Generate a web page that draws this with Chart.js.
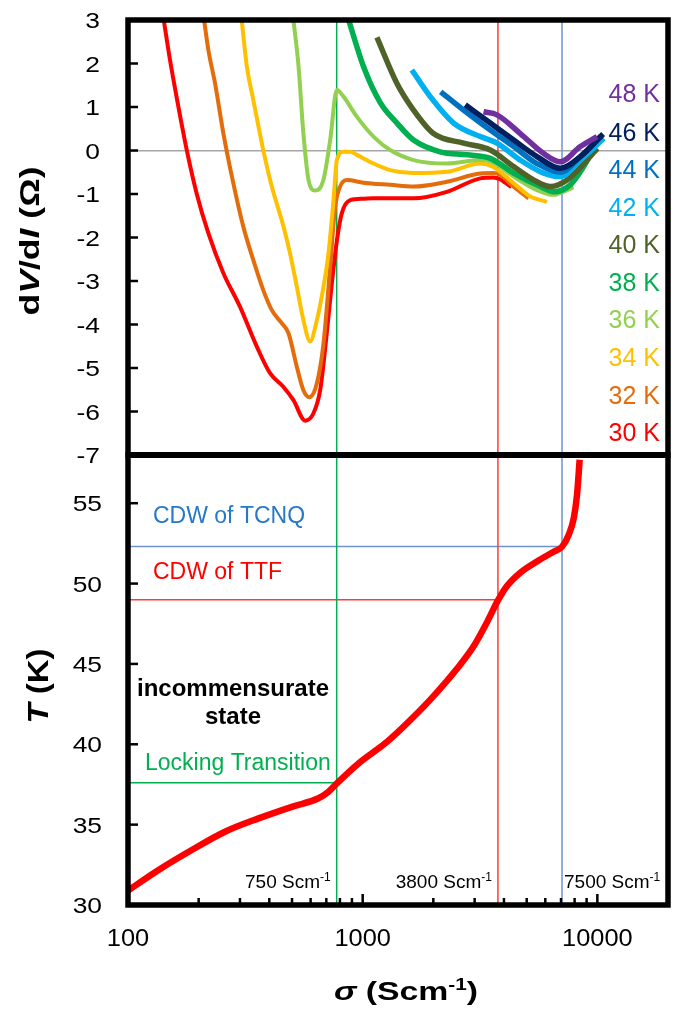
<!DOCTYPE html>
<html>
<head>
<meta charset="utf-8">
<script src="https://cdn.jsdelivr.net/npm/chart.js@4.4.1/dist/chart.umd.min.js"></script>
<style>
  html, body { margin: 0; padding: 0; background: #fff; }
  canvas { display: block; }
</style>
</head>
<body>
<canvas id="chart" width="677" height="1010"></canvas>
<script>
// top panel: dV/dI curves, one per temperature
const temps = [30, 32, 34, 36, 38, 40, 42, 44, 46, 48];
const tempColors = ["#ff0000", "#e46c0a", "#ffc000", "#92d050", "#00b050",
                    "#4f6228", "#00b0f0", "#0070c0", "#002060", "#7030a0"];

const sigma30 = [142, 151, 162, 178, 196, 220, 255, 300, 354, 403, 459, 507, 569, 617, 659, 703, 739, 777, 815, 885, 1000, 1112, 1310, 1647, 2285, 3170, 3600, 3850, 4050, 4300];
const dvdi30  = [3.0, 2.08, 1.16, 0.01, -0.98, -1.90, -2.82, -3.59, -4.51, -5.12, -5.43, -5.74, -6.21, -6.04, -5.51, -4.20, -3.05, -2.06, -1.44, -1.14, -1.11, -1.10, -1.10, -1.10, -0.95, -0.64, -0.62, -0.66, -0.74, -0.84];

const sigma32 = [211, 220, 235, 255, 281, 310, 342, 377, 410, 452, 483, 524, 559, 593, 638, 681, 727, 764, 801, 856, 1008, 1310, 1647, 2285, 3170, 3600, 3850, 4397, 5090];
const dvdi32  = [3.0, 2.31, 1.54, 0.39, -0.75, -1.75, -2.52, -3.21, -3.67, -3.97, -4.20, -4.97, -5.51, -5.67, -5.35, -4.43, -2.67, -1.29, -0.83, -0.68, -0.74, -0.79, -0.83, -0.72, -0.53, -0.52, -0.56, -0.83, -1.10];

const sigma34 = [305, 321, 342, 377, 410, 460, 490, 524, 559, 597, 638, 681, 715, 751, 776, 828, 885, 944, 1112, 1310, 1647, 2285, 3170, 3600, 4397, 5180, 6100];
const dvdi34  = [3.0, 1.93, 1.16, 0.01, -0.83, -1.75, -2.36, -3.13, -3.90, -4.39, -3.90, -3.13, -2.36, -1.14, -0.22, -0.03, -0.03, -0.10, -0.30, -0.45, -0.52, -0.49, -0.30, -0.38, -0.75, -1.06, -1.18];

const sigma36 = [507, 533, 559, 588, 627, 680, 727, 776, 828, 944, 1112, 1310, 1647, 2285, 3170, 3600, 4397, 5529, 6515, 7430, 7920];
const dvdi36  = [3.0, 1.93, 0.39, -0.68, -0.92, -0.68, 0.24, 1.39, 1.24, 0.78, 0.32, 0.01, -0.22, -0.30, -0.22, -0.28, -0.60, -0.91, -1.02, -0.91, -0.85];

const sigma38 = [871, 1008, 1188, 1400, 1647, 2138, 2780, 3498, 4397, 5710, 6515, 7670, 8750, 9650];
const dvdi38  = [3.0, 1.93, 1.10, 0.63, 0.24, -0.03, -0.10, -0.18, -0.52, -0.83, -0.95, -0.79, -0.37, 0.05];

const sigma40 = [1150, 1400, 1647, 2004, 2692, 3498, 4397, 5529, 6305, 7430, 9040, 10000];
const dvdi40  = [2.6, 1.54, 0.93, 0.39, 0.17, 0.01, -0.37, -0.72, -0.83, -0.68, -0.22, 0.05];

const sigma42 = [1620, 1940, 2440, 3170, 3735, 4694, 5906, 6952, 8465, 10650];
const dvdi42  = [1.85, 1.24, 0.63, 0.32, 0.17, -0.22, -0.52, -0.60, -0.22, 0.28];

const sigma44 = [2150, 2690, 3498, 4397, 5529, 6952, 8465, 10400];
const dvdi44  = [1.35, 0.93, 0.47, 0.09, -0.30, -0.50, -0.14, 0.34];

const sigma46 = [2737, 3498, 4397, 5529, 6952, 8465, 10580];
const dvdi46  = [1.05, 0.63, 0.24, -0.14, -0.41, -0.14, 0.38];

const sigma48 = [3273, 3735, 4694, 5906, 6952, 8465, 9970];
const dvdi48  = [0.89, 0.82, 0.39, -0.07, -0.26, 0.09, 0.32];

const sigmaCurves = [sigma30, sigma32, sigma34, sigma36, sigma38, sigma40, sigma42, sigma44, sigma46, sigma48];
const dvdiCurves = [dvdi30, dvdi32, dvdi34, dvdi36, dvdi38, dvdi40, dvdi42, dvdi44, dvdi46, dvdi48];

// bottom panel: T vs sigma
const sigmaT = [100, 135, 187, 259, 360, 499, 648, 715, 776, 960, 1247, 1445, 1621, 2004, 2522, 2970, 3388, 3770, 4120, 4694, 5530, 6515, 7070, 7545, 7930, 8190, 8405];
const tempT  = [30.9, 32.18, 33.42, 34.56, 35.39, 36.11, 36.64, 37.05, 37.57, 38.81, 40.06, 40.9, 41.6, 43.0, 44.7, 46.1, 47.6, 48.95, 49.85, 50.68, 51.38, 51.98, 52.29, 53.02, 54.06, 55.51, 57.7];

// transitions: locking, CDW of TTF, CDW of TCNQ
const refSigma = [775, 3770, 7070];
const refTemp = [37.6, 49.0, 52.3];
const refLabels = ["750", "3800", "7500"];
const refColors = ["#00b050", "#ff3b3b", "#6f94cd"];

// axes
const dvdiTicks = [3, 2, 1, 0, -1, -2, -3, -4, -5, -6, -7];
const tempTicks = [30, 35, 40, 45, 50, 55];
const sigmaTicks = [100, 1000, 10000];
const sigmaMinor = [200, 300, 400, 500, 600, 700, 800, 900, 2000, 3000, 4000, 5000, 6000, 7000, 8000, 9000];

const FONT = '"Liberation Sans", Arial, sans-serif';

const datasets = [];

temps.forEach((t, i) => {
  datasets.push({
    label: t + " K",
    data: sigmaCurves[i].map((s, j) => ({ x: s, y: dvdiCurves[i][j] })),
    yAxisID: "yT",
    borderColor: tempColors[i],
    borderWidth: i < 4 ? 4 : 5.5,
    pointRadius: 0,
    showLine: true,
    cubicInterpolationMode: "monotone",
    order: 20 - i
  });
});

datasets.push({
  label: "T",
  data: sigmaT.map((s, j) => ({ x: s, y: tempT[j] })),
  yAxisID: "yB",
  borderColor: "#ff0000",
  borderWidth: 6.5,
  pointRadius: 0,
  showLine: true,
  cubicInterpolationMode: "monotone",
  order: 1
});

refSigma.forEach((s, i) => {
  const common = { borderColor: refColors[i], borderWidth: 1.5, pointRadius: 0, showLine: true, order: 40 };
  datasets.push(Object.assign({ data: [{ x: s, y: 3 }, { x: s, y: -7 }], yAxisID: "yT" }, common));
  datasets.push(Object.assign({ data: [{ x: s, y: 30 }, { x: s, y: 58 }], yAxisID: "yB" }, common));
  datasets.push(Object.assign({ data: [{ x: 100, y: refTemp[i] }, { x: s, y: refTemp[i] }], yAxisID: "yB" }, common));
});

// text with optional horizontal stretch and rotation
function drawRich(ctx, parts, x, y, align, sx, rot) {
  ctx.save();
  ctx.translate(x, y);
  if (rot) ctx.rotate(rot);
  ctx.scale(sx, 1);
  let w = 0;
  parts.forEach(p => { ctx.font = p.font; w += ctx.measureText(p.t).width; });
  let cx = align === "center" ? -w / 2 : align === "right" ? -w : 0;
  ctx.textAlign = "left";
  ctx.textBaseline = "alphabetic";
  parts.forEach(p => {
    ctx.font = p.font;
    ctx.fillStyle = p.color || "#000";
    ctx.fillText(p.t, cx, p.dy || 0);
    cx += ctx.measureText(p.t).width;
  });
  ctx.restore();
}

function seg(ctx, x1, y1, x2, y2) {
  ctx.beginPath();
  ctx.moveTo(x1, y1);
  ctx.lineTo(x2, y2);
  ctx.stroke();
}

const decorations = {
  id: "decorations",
  afterDatasetsDraw(chart) {
    const ctx = chart.ctx;
    const a = chart.chartArea;
    const xs = chart.scales.x, yT = chart.scales.yT, yB = chart.scales.yB;
    ctx.save();
    ctx.strokeStyle = "#000";
    ctx.lineWidth = 2.5;
    dvdiTicks.forEach(v => { const p = yT.getPixelForValue(v); seg(ctx, a.left, p, a.left + 10, p); });
    tempTicks.forEach(v => { const p = yB.getPixelForValue(v); seg(ctx, a.left, p, a.left + 10, p); });
    sigmaMinor.forEach(v => { const p = xs.getPixelForValue(v); seg(ctx, p, a.bottom, p, a.bottom - 7); });
    sigmaTicks.forEach(v => { const p = xs.getPixelForValue(v); seg(ctx, p, a.bottom, p, a.bottom - 11); });
    ctx.lineWidth = 5.5;
    ctx.strokeRect(a.left, a.top, a.right - a.left, a.bottom - a.top);
    ctx.lineWidth = 6;
    seg(ctx, a.left - 2.5, yT.bottom, a.right + 2.5, yT.bottom);
    ctx.restore();

    const tick = "22px " + FONT;
    dvdiTicks.forEach(v => drawRich(ctx, [{ t: String(v), font: tick }], 100, yT.getPixelForValue(v) + 8, "right", 1.2));
    tempTicks.forEach(v => drawRich(ctx, [{ t: String(v), font: tick }], 102, yB.getPixelForValue(v) + 8, "right", 1.2));
    sigmaTicks.forEach(v => drawRich(ctx, [{ t: String(v), font: "23.5px " + FONT }], xs.getPixelForValue(v), 946, "center", 1.08));

    // axis titles
    const bold = "bold 28px " + FONT, boldIt = "italic bold 28px " + FONT;
    drawRich(ctx, [
      { t: "d", font: bold }, { t: "V", font: boldIt }, { t: "/d", font: bold },
      { t: "I", font: boldIt }, { t: " (Ω)", font: bold }
    ], 39, 241, "center", 1.27, -Math.PI / 2);
    drawRich(ctx, [
      { t: "T", font: "italic bold 30px " + FONT }, { t: " (K)", font: "bold 30px " + FONT }
    ], 48, 686, "center", 1.1, -Math.PI / 2);
    drawRich(ctx, [
      { t: "σ", font: "italic bold 26px " + FONT }, { t: " (Scm", font: "bold 26px " + FONT },
      { t: "-1", font: "bold 16px " + FONT, dy: -10 }, { t: ")", font: "bold 26px " + FONT }
    ], 406, 1000, "center", 1.3);

    // temperature labels
    const kY = [432, 395, 357, 319, 282, 244, 207, 169, 132, 93];
    temps.forEach((t, i) => drawRich(ctx, [{ t: t + " K", font: "25px " + FONT, color: tempColors[i] }], 660, kY[i] + 9, "right", 1));

    // phase annotations
    const ann = "23px " + FONT;
    drawRich(ctx, [{ t: "CDW of TCNQ", font: ann, color: "#2878c8" }], 153, 523, "left", 1);
    drawRich(ctx, [{ t: "CDW of TTF", font: ann, color: "#ff0000" }], 153, 579, "left", 1);
    drawRich(ctx, [{ t: "Locking Transition", font: ann, color: "#00b050" }], 145, 770, "left", 1);
    drawRich(ctx, [{ t: "incommensurate", font: "bold 24px " + FONT }], 233, 696, "center", 1);
    drawRich(ctx, [{ t: "state", font: "bold 24px " + FONT }], 233, 724, "center", 1);

    // sigma values of the transitions
    const small = "19px " + FONT, sup = "12px " + FONT;
    refSigma.forEach((s, i) => {
      const parts = [{ t: refLabels[i] + " Scm", font: small }, { t: "-1", font: sup, dy: -7 }];
      const p = xs.getPixelForValue(s);
      if (i < 2) drawRich(ctx, parts, p - 6, 888, "right", 1);
      else drawRich(ctx, parts, p + 2, 888, "left", 1);
    });
  }
};

new Chart(document.getElementById("chart"), {
  type: "scatter",
  data: { datasets: datasets },
  options: {
    responsive: false,
    animation: false,
    devicePixelRatio: 1,
    layout: { padding: { top: 20, right: 9, left: 0, bottom: 0 } },
    plugins: { legend: { display: false }, tooltip: { enabled: false } },
    scales: {
      x: {
        type: "logarithmic",
        min: 100,
        max: 20000,
        position: "bottom",
        ticks: { display: false },
        grid: { display: false },
        border: { display: false },
        afterFit(s) { s.height = 105; }
      },
      yB: {
        type: "linear",
        min: 30,
        max: 58,
        position: "left",
        stack: "panels",
        stackWeight: 450,
        ticks: { display: false, stepSize: 5 },
        grid: { display: false },
        border: { display: false },
        afterFit(s) { s.width = 128; }
      },
      yT: {
        type: "linear",
        min: -7,
        max: 3,
        position: "left",
        stack: "panels",
        stackWeight: 435,
        ticks: { display: false, stepSize: 1 },
        grid: {
          drawTicks: false,
          lineWidth: 1.5,
          color: c => (c.tick && c.tick.value === 0 ? "#a6a6a6" : "rgba(0,0,0,0)")
        },
        border: { display: false },
        afterFit(s) { s.width = 128; }
      }
    }
  },
  plugins: [decorations]
});
</script>
</body>
</html>
